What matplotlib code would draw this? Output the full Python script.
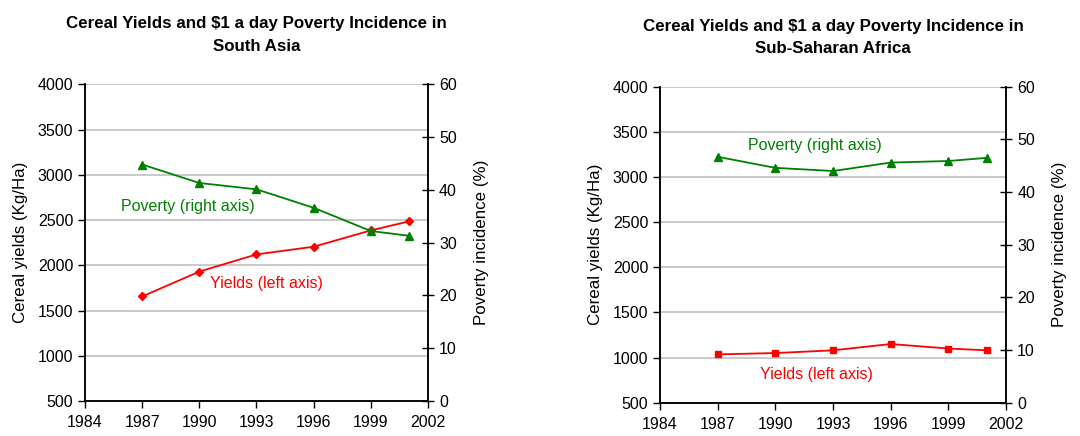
import matplotlib
matplotlib.use('Agg')
import matplotlib.pyplot as plt

plt.rcParams['font.family'] = ['Liberation Sans', 'DejaVu Sans']

# data
years = [1987, 1990, 1993, 1996, 1999, 2001]
sa_yields = [1655, 1930, 2120, 2205, 2385, 2485]
sa_poverty = [44.8, 41.3, 40.1, 36.6, 32.2, 31.3]
ssa_yields = [1035, 1050, 1080, 1150, 1100, 1080]
ssa_poverty = [46.7, 44.6, 44.0, 45.6, 45.9, 46.5]

xticks = [1984, 1987, 1990, 1993, 1996, 1999, 2002]
yticks_left = [500, 1000, 1500, 2000, 2500, 3000, 3500, 4000]
yticks_right = [0, 10, 20, 30, 40, 50, 60]

GREEN = '#008000'
RED = '#ff0000'
GRID = '#c0c0c0'
FS = 11.5


def panel(rect, title, yields, poverty, ymark, msize, pov_lbl, yld_lbl):
    ax = fig.add_axes(rect)
    ax2 = ax.twinx()

    ax.set_xlim(1984, 2002)
    ax.set_ylim(500, 4000)
    ax2.set_ylim(0, 60)
    ax.set_xticks(xticks)
    ax.set_yticks(yticks_left)
    ax2.set_yticks(yticks_right)

    for a in (ax, ax2):
        a.spines['top'].set_visible(False)
        for s in a.spines.values():
            s.set_linewidth(1.1)
    ax.grid(axis='y', color=GRID, linewidth=1.2)
    ax.set_axisbelow(True)

    ax.tick_params(axis='both', direction='out', length=5, width=1, labelsize=FS)
    ax.tick_params(axis='x', pad=5)
    ax2.tick_params(axis='y', direction='inout', length=9, width=1, labelsize=FS)

    ax.set_ylabel('Cereal yields (Kg/Ha)', fontsize=12.2, labelpad=7)
    ax2.set_ylabel('Poverty incidence (%)', fontsize=12.2, labelpad=12)

    ax.plot(years, yields, color=RED, marker=ymark, markersize=msize, linewidth=1.3,
            clip_on=False, zorder=3)
    ax2.plot(years, poverty, color=GREEN, marker='^', markersize=5.5, linewidth=1.3,
             clip_on=False, zorder=3)

    ax.text(pov_lbl[0], pov_lbl[1], 'Poverty (right axis)', color=GREEN,
            fontsize=FS, va='center', ha='left')
    ax.text(yld_lbl[0], yld_lbl[1], 'Yields (left axis)', color=RED,
            fontsize=FS, va='center', ha='left')

    ax.set_title(title, fontsize=12.2, fontweight='bold', pad=24, linespacing=1.65)
    return ax


fig = plt.figure(figsize=(10.8, 4.36), dpi=100)

panel([0.0787, 0.0803, 0.3176, 0.7264],
      'Cereal Yields and $1 a day Poverty Incidence in\nSouth Asia',
      sa_yields, sa_poverty, 'D', 4.2, (1985.9, 2644), (1990.55, 1793))

panel([0.6111, 0.0764, 0.3204, 0.7246],
      'Cereal Yields and $1 a day Poverty Incidence in\nSub-Saharan Africa',
      ssa_yields, ssa_poverty, 's', 4.8, (1988.6, 3346), (1989.2, 813))

fig.savefig('out.png', dpi=100)
